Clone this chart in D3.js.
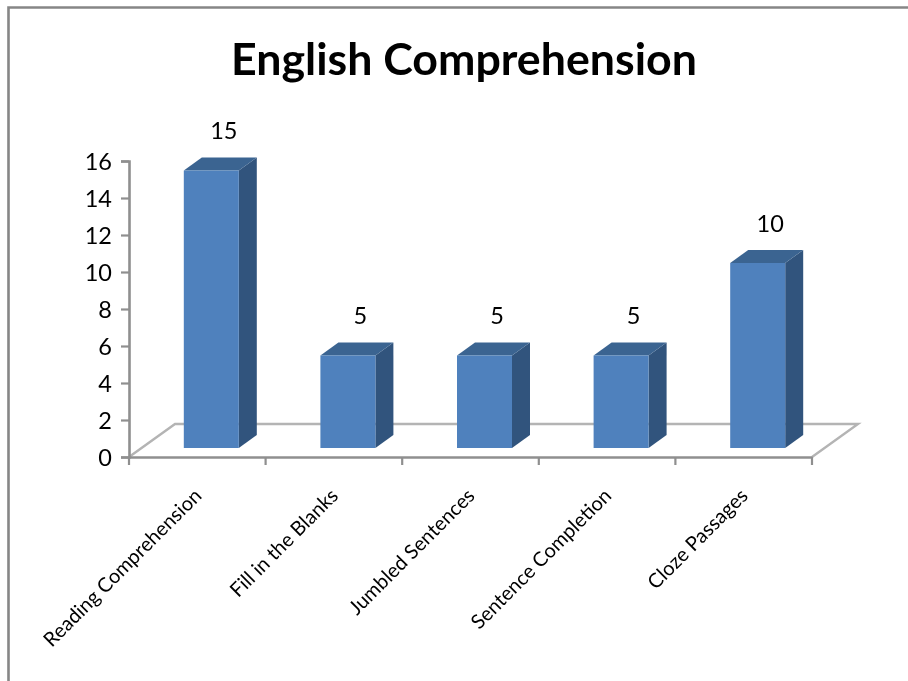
<!DOCTYPE html>
<html><head><meta charset="utf-8">
<script src="https://cdn.jsdelivr.net/npm/d3@7/dist/d3.min.js"></script>
<style>html,body{margin:0;padding:0;background:#fff}svg{display:block}text{font-family:Lato,"Open Sans",sans-serif;fill:#000}#root{filter:blur(0.45px)}</style>
</head><body><svg id="c" width="908" height="681"><g id="root"></g></svg>
<script>
const categories = ["Reading Comprehension","Fill in the Blanks","Jumbled Sentences","Sentence Completion","Cloze Passages"];
const values = [15,5,5,5,10];
const yTicks = [0,2,4,6,8,10,12,14,16];
const titleText = "English Comprehension";

const svg = d3.select("#root");
const x = d3.scaleBand().domain(categories).range([129,812]).padding(0);
const y = d3.scaleLinear().domain([0,16]).range([457,161]);
const depth = {dx:46, dy:-33};
const barW = 55, barOff = {dx:14, dy:-9}, barD = {dx:18, dy:-13};

// frame
svg.append("path").attr("d","M8.5,681V7.5H908").attr("fill","none").attr("stroke","#868686").attr("stroke-width",2.6);

svg.append("text").attr("x",464).attr("y",74.5).attr("text-anchor","middle")
  .attr("font-size",44.7).attr("font-weight",700).text(titleText);

// floor
const x0=x.range()[0], x1=x.range()[1], y0=y(0);
const gridC="#b4b4b4", axisC="#8f8f8f";
svg.append("path").attr("d",`M${x0},${y0}L${x0+depth.dx},${y0+depth.dy}H${x1+depth.dx}L${x1},${y0}`)
  .attr("fill","none").attr("stroke",gridC).attr("stroke-width",2.4);

// axes
const gy = svg.append("g").attr("transform",`translate(${x0},0)`)
  .call(d3.axisLeft(y).tickValues(yTicks).tickSize(8).tickPadding(9));
const gx = svg.append("g").attr("transform",`translate(0,${y0})`)
  .call(d3.axisBottom(x).tickSize(0).tickFormat(""));
gx.selectAll(".tick").remove();
gx.selectAll(".edge").data([null,...categories]).join("line")
  .attr("x1",(d,i)=> i===0?x0:x(d)+x.bandwidth()).attr("x2",(d,i)=> i===0?x0:x(d)+x.bandwidth())
  .attr("y1",0).attr("y2",8);
[gx,gy].forEach(g=>{g.selectAll("path.domain").attr("stroke",axisC).attr("stroke-width",2.6);
  g.selectAll("line").attr("stroke",axisC).attr("stroke-width",2.2);});
gy.selectAll("text").attr("font-size",23.5).attr("dy","0.38em").style("font-family","Lato");

// bars
const bars = svg.selectAll(".bar").data(categories.map((c,i)=>({c,v:values[i]}))).join("g").attr("class","bar");
const L=d=>x(d.c)+x.bandwidth()/2-barW/2+barOff.dx, T=d=>y(d.v)+barOff.dy, B=()=>y(0)+barOff.dy;
bars.append("path").attr("fill","#31547d").attr("d",d=>`M${L(d)+barW},${T(d)}l${barD.dx},${barD.dy}V${B()+barD.dy}l${-barD.dx},${-barD.dy}Z`);
bars.append("path").attr("fill","#3b6491").attr("d",d=>`M${L(d)},${T(d)}l${barD.dx},${barD.dy}h${barW}l${-barD.dx},${-barD.dy}Z`);
bars.append("rect").attr("fill","#4f81bd").attr("x",L).attr("y",T).attr("width",barW).attr("height",d=>B()-T(d));
bars.append("text").attr("x",d=>L(d)+barW/2+12.5).attr("y",d=>T(d)-31.5).attr("text-anchor","middle").attr("font-size",23.5).text(d=>d.v);

// category labels
svg.selectAll(".cat").data(categories).join("text").attr("class","cat")
  .attr("text-anchor","end").attr("font-size",20)
  .attr("transform",d=>`translate(${x(d)+x.bandwidth()/2+5.5},${y0+40}) rotate(-45)`).text(d=>d);
</script></body></html>
